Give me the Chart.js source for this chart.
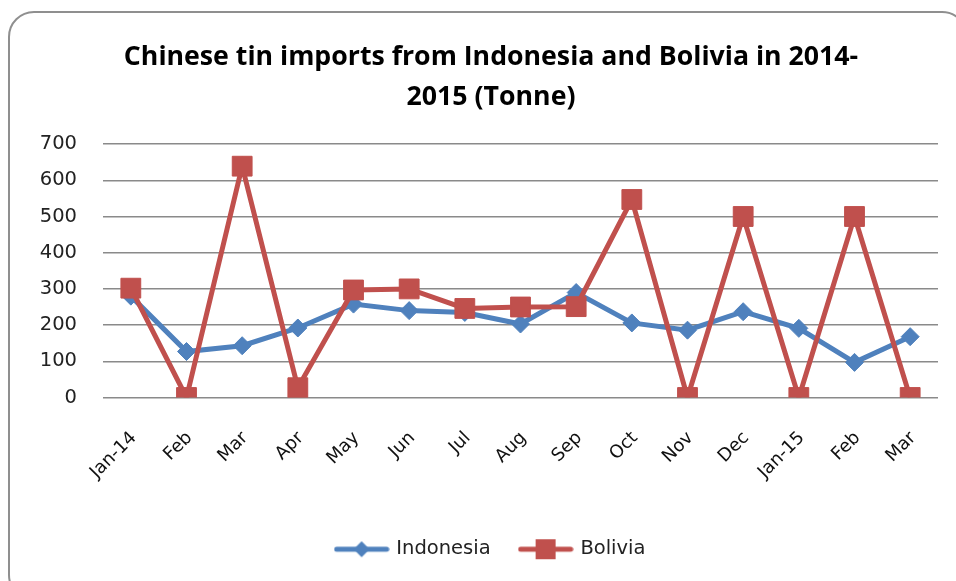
<!DOCTYPE html>
<html>
<head>
<meta charset="utf-8">
<script src="https://cdn.jsdelivr.net/npm/chart.js@4"></script>
<style>
  html, body { margin: 0; padding: 0; background: #fff; }
  #wrap { position: relative; width: 956px; height: 581px; overflow: hidden; }
  #frame {
    position: absolute; left: 8px; top: 11px; width: 960px; height: 590px;
    border: 2px solid #8f8f8f; border-radius: 26px; box-sizing: border-box;
  }
  #tinChart { position: absolute; left: 0; top: 0; }
</style>
</head>
<body>
<div id="wrap">
  <div id="frame"></div>
  <canvas id="tinChart" width="956" height="581"></canvas>
</div>
<script>
// =====================================
// DATA
// =====================================

const months = [
    "Jan-14", "Feb", "Mar", "Apr", "May", "Jun", "Jul", "Aug",
    "Sep", "Oct", "Nov", "Dec", "Jan-15", "Feb", "Mar"
];

const indonesia = [
    280, 127, 143, 192, 258, 240, 235, 203, 290, 206, 186, 237, 191, 97, 168
];

const bolivia = [
    302, 0, 639, 27, 297, 300, 246, 250, 251, 547, 0, 500, 0, 500, 0
];

const yTicks = [0, 100, 200, 300, 400, 500, 600, 700];

const chartTitle = [
    "Chinese tin imports from Indonesia and Bolivia in 2014-",
    "2015 (Tonne)"
];

const BLUE = "#4F81BD";
const RED = "#C0504D";
const FONT = "'DejaVu Sans', sans-serif";


// =====================================
// LEGEND SWATCHES (line + marker)
// =====================================

function makeSwatch(color, shape){

    const c = document.createElement("canvas");
    c.width = 56;
    c.height = 22;

    const ctx = c.getContext("2d");

    ctx.strokeStyle = color;
    ctx.lineWidth = 5;
    ctx.lineCap = "round";
    ctx.beginPath();
    ctx.moveTo(3, 11);
    ctx.lineTo(53, 11);
    ctx.stroke();

    ctx.fillStyle = color;
    ctx.beginPath();

    if(shape === "diamond"){
        ctx.moveTo(28, 3);
        ctx.lineTo(36, 11);
        ctx.lineTo(28, 19);
        ctx.lineTo(20, 11);
        ctx.closePath();
    } else {
        ctx.rect(18, 1, 20, 20);
    }

    ctx.fill();

    return c;
}


// title and legend sit a little right of the canvas centre in the original
const shiftBoxes = {
    id: "shiftBoxes",
    afterLayout(chart){
        const dx = 22;
        [chart.titleBlock, chart.legend].forEach(box => {
            if(!box) return;
            box.left += dx;
            box.right += dx;
        });
    }
};


// =====================================
// CHART
// =====================================

const canvas = document.getElementById("tinChart");

new Chart(canvas, {

    type: "line",

    data: {
        labels: months,
        datasets: [
            {
                label: "Indonesia",
                data: indonesia,
                borderColor: BLUE,
                backgroundColor: BLUE,
                borderWidth: 5,
                pointStyle: "rectRot",
                pointRadius: 9,
                pointBorderWidth: 1,
                tension: 0,
                order: 1
            },
            {
                label: "Bolivia",
                data: bolivia,
                borderColor: RED,
                backgroundColor: RED,
                borderWidth: 5,
                pointStyle: "rect",
                pointRadius: 14,
                pointBorderWidth: 1,
                tension: 0,
                order: 0
            }
        ]
    },

    plugins: [shiftBoxes],

    options: {
        responsive: false,
        animation: false,
        layout: {
            padding: { left: 0, right: 18, top: 0, bottom: 12 }
        },
        plugins: {
            title: {
                display: true,
                text: chartTitle,
                color: "#000",
                font: { family: "'Open Sans', sans-serif", size: 26.7, weight: "bold", lineHeight: 1.5 },
                padding: { top: 37, bottom: 27 }
            },
            legend: {
                position: "bottom",
                labels: {
                    usePointStyle: true,
                    pointStyleWidth: 50,
                    color: "#222",
                    font: { family: FONT, size: 19.5 },
                    padding: 30,
                    generateLabels: () => [
                        { text: "Indonesia", pointStyle: makeSwatch(BLUE, "diamond"), datasetIndex: 0, fontColor: "#222", lineWidth: 0, strokeStyle: "transparent", fillStyle: BLUE },
                        { text: "Bolivia", pointStyle: makeSwatch(RED, "square"), datasetIndex: 1, fontColor: "#222", lineWidth: 0, strokeStyle: "transparent", fillStyle: RED }
                    ]
                }
            },
            tooltip: { enabled: false }
        },
        scales: {
            x: {
                offset: true,
                grid: { display: false },
                border: { display: false },
                ticks: {
                    color: "#111",
                    font: { family: FONT, size: 18 },
                    minRotation: 45,
                    maxRotation: 45,
                    autoSkip: false,
                    padding: 22,
                    labelOffset: 3
                },
                afterFit: (scale) => { scale.height = 112; }
            },
            y: {
                min: 0,
                max: 700,
                afterBuildTicks: (scale) => {
                    scale.ticks = yTicks.map(v => ({ value: v }));
                },
                grid: {
                    color: "#8a8a8a",
                    lineWidth: 1.5,
                    drawTicks: false
                },
                border: { display: false },
                ticks: {
                    color: "#222",
                    font: { family: FONT, size: 19.5 },
                    padding: 26
                },
                afterFit: (scale) => { scale.width = 103; }
            }
        }
    }

});
</script>
</body>
</html>
